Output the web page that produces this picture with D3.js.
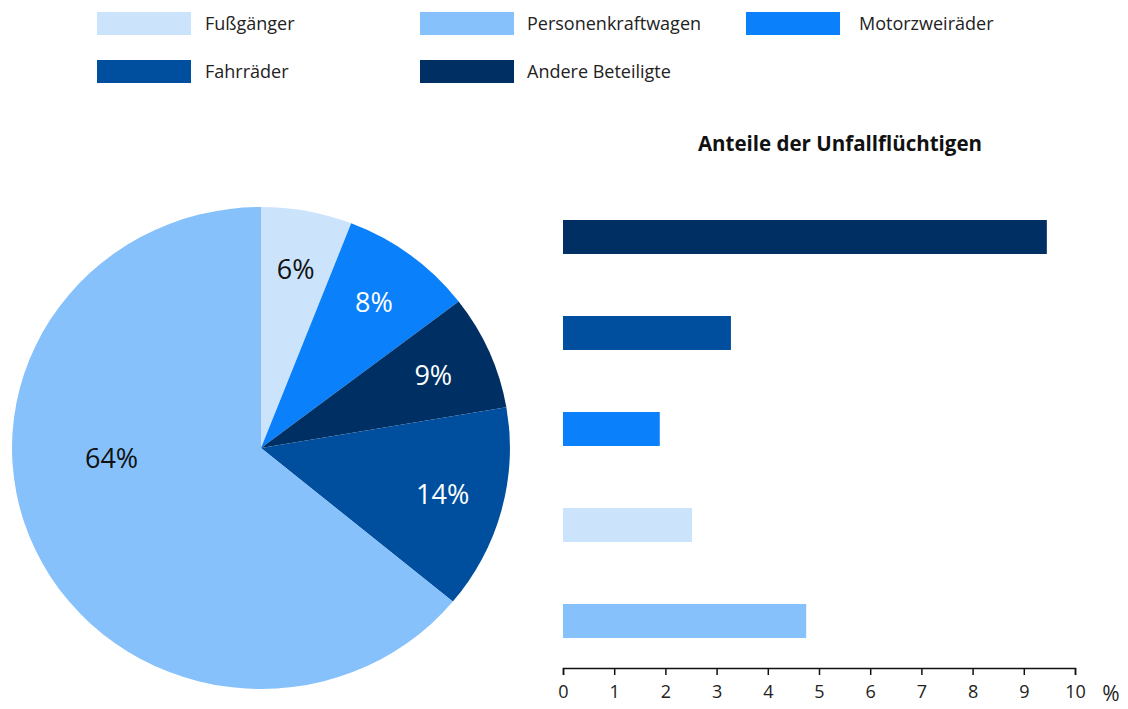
<!DOCTYPE html>
<meta charset="utf-8">
<script src="https://d3js.org/d3.v7.min.js"></script>
<style>
  body { margin: 0; background: #fff; }
  text { font-family: "Open Sans", sans-serif; }
</style>
<div id="chart"></div>
<script>
// categories in pie order (clockwise from 12 o'clock)
const categories = ["Fußgänger", "Motorzweiräder", "Andere Beteiligte", "Fahrräder", "Personenkraftwagen"];
const pieValues = [5.9, 8.7, 7.7, 13.7, 64.0];
const pieLabels = ["6%", "8%", "9%", "14%", "64%"];
const colors = ["#cce3fc", "#0a80fb", "#003063", "#004f9e", "#86c1fb"];

// bar chart, top to bottom
const barCategories = ["Andere Beteiligte", "Fahrräder", "Motorzweiräder", "Fußgänger", "Personenkraftwagen"];
const barValues = [9.45, 3.28, 1.89, 2.52, 4.75];
const xTicks = [0, 1, 2, 3, 4, 5, 6, 7, 8, 9, 10];

// legend order (row by row)
const legendItems = ["Fußgänger", "Personenkraftwagen", "Motorzweiräder", "Fahrräder", "Andere Beteiligte"];

const color = d3.scaleOrdinal().domain(categories).range(colors);

const svg = d3.select("#chart").append("svg")
  .attr("width", 1128)
  .attr("height", 709);

// legend
const legendCols = [97, 420, 746];
const legendTextX = [108, 107, 113];
const legendRows = [12, 60];
const legend = svg.append("g");
legendItems.forEach((name, i) => {
  const g = legend.append("g")
    .attr("transform", `translate(${legendCols[i % 3]}, ${legendRows[Math.floor(i / 3)]})`);
  g.append("rect").attr("width", 94).attr("height", 23).attr("fill", color(name));
  g.append("text").attr("x", legendTextX[i % 3]).attr("y", 12).attr("dy", "0.35em")
    .style("font-size", "18px").attr("fill", "#222").text(name);
});

// pie (slightly wider than tall, as in the original)
const pieG = svg.append("g").attr("transform", "translate(261, 448) scale(1.033, 1)");
const r = 241;
const pie = d3.pie().sort(null).value(d => d.value);
const arcs = pie(categories.map((c, i) => ({name: c, value: pieValues[i], label: pieLabels[i]})));
const arc = d3.arc().innerRadius(0).outerRadius(r);
pieG.selectAll("path")
  .data(arcs)
  .join("path")
  .attr("d", arc)
  .attr("fill", d => color(d.data.name));

const labelArc = d3.arc().innerRadius(182).outerRadius(182);
const bigArc = d3.arc().innerRadius(145).outerRadius(145);
pieG.selectAll("text.lbl")
  .data(arcs)
  .join("text")
  .attr("class", "lbl")
  .attr("transform", d => {
    let c;
    if (d.data.value > 50) {
      const a = 266 * Math.PI / 180;
      c = bigArc.centroid({startAngle: a, endAngle: a});
    } else {
      c = labelArc.centroid(d);
    }
    return `translate(${c[0]}, ${c[1]}) scale(${1 / 1.033}, 1)`;
  })
  .attr("text-anchor", "middle")
  .attr("dy", "0.35em")
  .style("font-size", "27px")
  .attr("fill", d => (d.data.name === "Fußgänger" || d.data.name === "Personenkraftwagen") ? "#111" : "#fff")
  .text(d => d.data.label);

// bar chart
const x = d3.scaleLinear().domain([0, 10]).range([563, 1075]);
const y = d3.scaleBand().domain(barCategories).range([191.2, 666.8]).paddingInner(0.646).paddingOuter(0.3);

svg.append("text")
  .attr("x", 840).attr("y", 144).attr("dy", "0.35em")
  .attr("text-anchor", "middle")
  .style("font-size", "20.5px").style("font-weight", "bold").attr("fill", "#111")
  .text("Anteile der Unfallflüchtigen");

svg.selectAll("rect.bar")
  .data(barCategories)
  .join("rect")
  .attr("class", "bar")
  .attr("x", x(0))
  .attr("y", d => y(d))
  .attr("height", y.bandwidth())
  .attr("width", (d, i) => x(barValues[i]) - x(0))
  .attr("fill", d => color(d));

const axis = svg.append("g")
  .attr("transform", "translate(0, 668)")
  .call(d3.axisBottom(x).tickValues(xTicks).tickSize(7).tickSizeOuter(7).tickPadding(10));
axis.select(".domain").attr("stroke", "#111").attr("stroke-width", 1.5);
axis.selectAll(".tick line").attr("stroke", "#111").attr("stroke-width", 1.5);
axis.selectAll(".tick text").style("font-size", "18px").attr("fill", "#222")
  .style("font-family", "Open Sans, sans-serif");

svg.append("text")
  .attr("x", 1111).attr("y", 694)
  .attr("text-anchor", "middle")
  .attr("dy", "0.35em")
  .style("font-size", "21px").attr("fill", "#222")
  .text("%");
</script>
